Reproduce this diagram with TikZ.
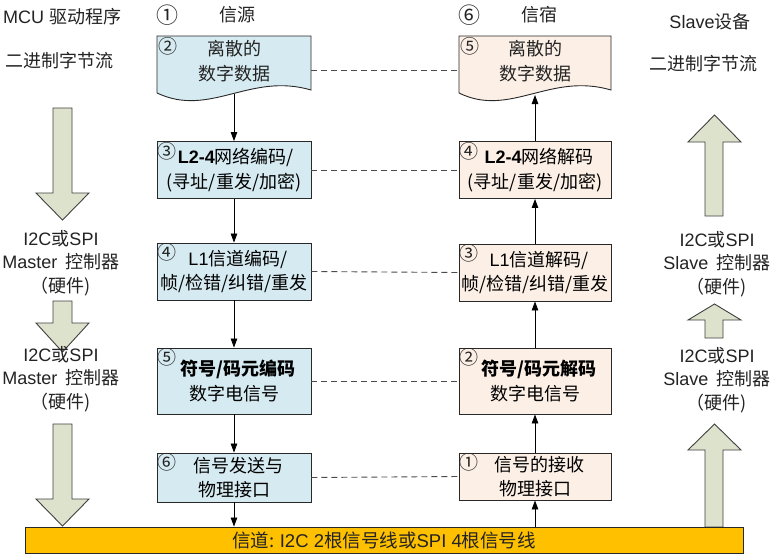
\documentclass[tikz,border=0pt]{standalone}
\usepackage{fontspec}
\setmainfont{Noto Sans CJK SC}
\newfontfamily\lat{Liberation Sans}
\usetikzlibrary{arrows.meta}
\definecolor{srcfill}{RGB}{214,234,241}
\definecolor{dstfill}{RGB}{252,239,230}
\definecolor{chanfill}{RGB}{255,192,0}
\definecolor{blkfill}{RGB}{221,226,204}
\definecolor{boxline}{RGB}{40,40,40}
\definecolor{txt}{RGB}{35,35,35}
\tikzset{
  lbox/.style={draw=boxline, fill=srcfill, line width=0.9pt, minimum width=154pt, align=center, inner sep=1pt},
  rbox/.style={draw=boxline, fill=dstfill, line width=0.9pt, minimum width=152pt, align=center, inner sep=1pt},
  doctext/.style={align=center, inner sep=0pt, text=txt},
  num/.style={inner sep=0pt, font=\fontsize{19}{19}\selectfont, text=txt},
  lbl/.style={align=center, inner sep=0pt, text=txt, font=\fontsize{18}{23.5}\selectfont},
  flow/.style={-{Triangle[length=9pt,width=6.5pt]}, line width=0.8pt, draw=black},
  dashlink/.style={dashed, dash pattern=on 6pt off 4pt, line width=0.9pt, draw=black!70},
  blockarrow/.style={fill=blkfill, draw=black!75, line width=0.9pt, line join=miter},
}
\begin{document}
\begin{tikzpicture}[x=1pt, y=-1pt, font=\fontsize{18}{24.5}\selectfont]
\useasboundingbox (0,0) rectangle (770,555);
\fill[white] (0,0) rectangle (770,555);

% block arrows (left: down)
\draw[blockarrow] (53,108) -- (72,108) -- (72,193) -- (89,193) -- (62.5,220) -- (36,193) -- (53,193) -- cycle;
\draw[blockarrow] (53,301) -- (72,301) -- (72,323) -- (89,323) -- (62.5,352) -- (36,323) -- (53,323) -- cycle;
\draw[blockarrow] (53,424) -- (72,424) -- (72,499) -- (89,499) -- (62.5,526) -- (36,499) -- (53,499) -- cycle;
% block arrows (right: up)
\draw[blockarrow] (705,216) -- (723,216) -- (723,142) -- (741,142) -- (714.5,115) -- (688,142) -- (705,142) -- cycle;
\draw[blockarrow] (705,338) -- (723,338) -- (723,320) -- (741,320) -- (714.5,304) -- (688,320) -- (705,320) -- cycle;
\draw[blockarrow] (705,527) -- (723,527) -- (723,450) -- (741,450) -- (714.5,424) -- (688,450) -- (705,450) -- cycle;

% top labels
\node[num, font=\fontsize{22}{22}\selectfont] (n1top) at (167,15) {①};
\node[lbl] (src) at (237,15) {信源};
\node[num, font=\fontsize{22}{22}\selectfont] (n6top) at (469,15) {⑥};
\node[lbl] (dst) at (539,15) {信宿};

% side labels
\node[lbl, anchor=west] (mcu) at (3,17) {\lat MCU\ {\rmfamily 驱动程序}};
\node[lbl, anchor=west] (binl) at (5,61) {二进制字节流};
\node[lbl] (ml1) at (61,263) {{\lat I2C}或{\lat SPI}\\{\lat Master}\ \ 控制器\\（硬件)};
\node[lbl] (ml2) at (61,379) {{\lat I2C}或{\lat SPI}\\{\lat Master}\ \ 控制器\\（硬件)};
\node[lbl] (slave) at (710,22) {{\lat Slave}设备};
\node[lbl] (binr) at (703,64) {二进制字节流};
\node[lbl] (sl1) at (717,264) {{\lat I2C}或{\lat SPI}\\{\lat Slave}\ \ 控制器\\（硬件)};
\node[lbl] (sl2) at (717,380) {{\lat I2C}或{\lat SPI}\\{\lat Slave}\ \ 控制器\\（硬件)};

% document shapes
\draw[fill=srcfill, draw=boxline, line width=0.9pt] (157,36) -- (311,36) -- (311,90) .. controls (250,72) and (210,118) .. (157,93) -- cycle;
\draw[fill=dstfill, draw=boxline, line width=0.9pt] (459,36) -- (611,36) -- (611,90) .. controls (550,72) and (510,118) .. (459,93) -- cycle;
\node[doctext] (ldoc) at (234,61) {离散的\\数字数据};
\node[doctext] (rdoc) at (535,61) {离散的\\数字数据};
\coordinate (ldocb) at (234,94);
\coordinate (rdocb) at (535,95);
\coordinate (ldocr) at (311,70);
\coordinate (rdocl) at (459,70);
\node[num, anchor=north west] (n2a) at (158,37) {②};
\node[num, anchor=north west] (n5a) at (460,37) {⑤};

% left boxes
\node[lbox, minimum height=57pt] (l2) at (234,170) {\ \textbf{\lat L2-4}网络编码/\\(寻址/重发/加密)};
\node[lbox, minimum height=57pt] (l3) at (234,271.5) {\ \ {\lat L1}信道编码/\\帧/检错/纠错/重发};
\node[lbox, minimum height=66pt] (l4) at (234,381) {\ \ \textbf{符号/码元编码}\\数字电信号};
\node[lbox, minimum height=49pt] (l5) at (234,477.5) {\ \ 信号发送与\\物理接口};
% right boxes
\node[rbox, minimum height=57pt] (r2) at (535,170) {\ \ \textbf{\lat L2-4}网络解码\\(寻址/重发/加密)};
\node[rbox, minimum height=57pt] (r3) at (535,272.5) {\ \ {\lat L1}信道解码/\\帧/检错/纠错/重发};
\node[rbox, minimum height=66pt] (r4) at (535,381) {\ \ \textbf{符号/码元解码}\\数字电信号};
\node[rbox, minimum height=47pt] (r5) at (535,476.5) {\ \ 信号的接收\\物理接口};

% circled numbers in boxes
\node[num, anchor=north west] (n3l) at ([shift={(1,1)}]l2.north west) {③};
\node[num, anchor=north west] (n4l) at ([shift={(1,1)}]l3.north west) {④};
\node[num, anchor=north west] (n5l) at ([shift={(1,1)}]l4.north west) {⑤};
\node[num, anchor=north west] (n6l) at ([shift={(1,1)}]l5.north west) {⑥};
\node[num, anchor=north west] (n4r) at ([shift={(1,1)}]r2.north west) {④};
\node[num, anchor=north west] (n3r) at ([shift={(1,1)}]r3.north west) {③};
\node[num, anchor=north west] (n2r) at ([shift={(1,1)}]r4.north west) {②};
\node[num, anchor=north west] (n1r) at ([shift={(1,1)}]r5.north west) {①};

% channel bar
\node[draw=boxline, fill=chanfill, line width=0.9pt, minimum width=718pt, minimum height=26pt, inner sep=0pt, text=txt, font=\fontsize{18.5}{20}\selectfont] (bar) at (384,540) {信道: {\lat I2C 2}根信号线或{\lat SPI 4}根信号线};

% flow arrows
\draw[flow] (ldocb) -- (l2.north);
\draw[flow] (l2.south) -- (l3.north);
\draw[flow] (l3.south) -- (l4.north);
\draw[flow] (l4.south) -- (l5.north);
\draw[flow] (l5.south) -- (l5.south |- bar.north);
\draw[flow] (r5.south |- bar.north) -- (r5.south);
\draw[flow] (r5.north) -- (r4.south);
\draw[flow] (r4.north) -- (r3.south);
\draw[flow] (r3.north) -- (r2.south);
\draw[flow] (r2.north) -- (rdocb);

% dashed links
\draw[dashlink] (ldocr) -- (rdocl);
\draw[dashlink] (l2.east) -- (r2.west);
\draw[dashlink] (l3.east) -- (r3.west);
\draw[dashlink] (l4.east) -- (r4.west);
\draw[dashlink] (l5.east) -- (r5.west);
\end{tikzpicture}
\end{document}
